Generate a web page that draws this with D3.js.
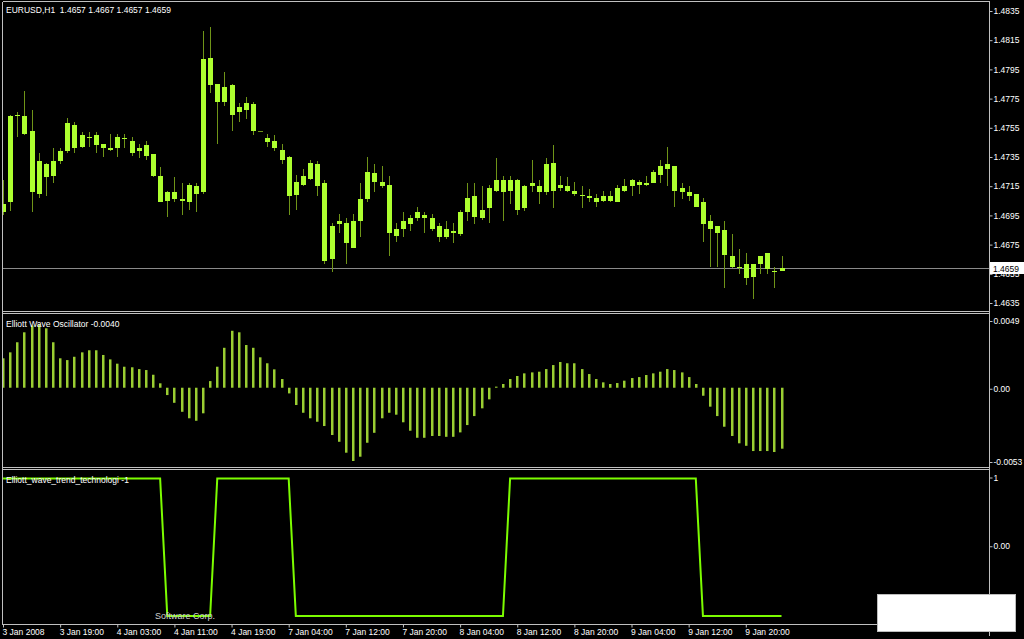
<!DOCTYPE html>
<html>
<head>
<meta charset="utf-8">
<script src="https://cdn.jsdelivr.net/npm/d3@7"></script>
<style>
  html, body { margin: 0; padding: 0; background: #000; }
  svg { display: block; }
  text { font-family: "Liberation Sans", Arial, sans-serif; font-size: 8.5px; fill: #fff; }
</style>
</head>
<body>
<svg id="chart" width="1024" height="639"></svg>
<script>
var symbolName = "EURUSD,H1";
var oscName = "Elliott Wave Oscillator -0.0040";
var trendName = "Elliott_wave_trend_technologi -1";
var footerText = "Software Corp.";

var timeLabels = ["3 Jan 2008", "3 Jan 19:00", "4 Jan 03:00", "4 Jan 11:00", "4 Jan 19:00", "7 Jan 04:00", "7 Jan 12:00",
                  "7 Jan 20:00", "8 Jan 04:00", "8 Jan 12:00", "8 Jan 20:00", "9 Jan 04:00", "9 Jan 12:00", "9 Jan 20:00"];
var timeLabelBars = [0, 8, 16, 24, 32, 40, 48, 56, 64, 72, 80, 88, 96, 104];

var priceTicks = [1.4835, 1.4815, 1.4795, 1.4775, 1.4755, 1.4735, 1.4715, 1.4695, 1.4675, 1.4655, 1.4635];
var oscTicks = [0.0049, 0, -0.0053];
var oscTickLabels = ["0.0049", "0.00", "-0.0053"];
var trendTicks = [1, 0];
var trendTickLabels = ["1", "0.00"];

var opens = [
  1.4697, 1.4704, 1.4763, 1.4763, 1.4753, 1.4710, 1.4730, 1.4722, 1.4732, 1.4739,
  1.4757, 1.4742, 1.4749, 1.4743, 1.4744, 1.4741, 1.4741, 1.4748, 1.4746, 1.4739,
  1.4743, 1.4737, 1.4722, 1.4705, 1.4711, 1.4706, 1.4704, 1.4715, 1.4711, 1.4803,
  1.4785, 1.4773, 1.4784, 1.4766, 1.4767, 1.4771, 1.4753, 1.4748, 1.4746, 1.4740,
  1.4735, 1.4709, 1.4716, 1.4720, 1.4730, 1.4717, 1.4665, 1.4689, 1.4690, 1.4673,
  1.4691, 1.4706, 1.4724, 1.4718, 1.4716, 1.4681, 1.4686, 1.4689, 1.4693, 1.4695,
  1.4693, 1.4688, 1.4680, 1.4684, 1.4682, 1.4697, 1.4708, 1.4693, 1.4700, 1.4712,
  1.4719, 1.4712, 1.4719, 1.4700, 1.4715, 1.4715, 1.4711, 1.4731, 1.4714, 1.4715,
  1.4712, 1.4709, 1.4708, 1.4707, 1.4705, 1.4705, 1.4704, 1.4712, 1.4715, 1.4718,
  1.4716, 1.4717, 1.4723, 1.4727, 1.4729, 1.4711, 1.4711, 1.4710, 1.4704, 1.4691,
  1.4688, 1.4685, 1.4667, 1.4660, 1.4662, 1.4653, 1.4662, 1.4669, 1.4657, 1.4657
];
var highs = [
  1.4719, 1.4764, 1.4766, 1.4780, 1.4767, 1.4738, 1.4731, 1.4741, 1.4741, 1.4762,
  1.4759, 1.4752, 1.4752, 1.4752, 1.4744, 1.4751, 1.4751, 1.4751, 1.4749, 1.4744,
  1.4746, 1.4737, 1.4728, 1.4712, 1.4721, 1.4717, 1.4717, 1.4717, 1.4821, 1.4824,
  1.4785, 1.4793, 1.4785, 1.4772, 1.4776, 1.4773, 1.4753, 1.4751, 1.4750, 1.4744,
  1.4736, 1.4723, 1.4727, 1.4733, 1.4732, 1.4719, 1.4690, 1.4696, 1.4693, 1.4696,
  1.4717, 1.4735, 1.4730, 1.4729, 1.4722, 1.4690, 1.4697, 1.4695, 1.4701, 1.4697,
  1.4696, 1.4690, 1.4691, 1.4690, 1.4699, 1.4717, 1.4717, 1.4715, 1.4716, 1.4734,
  1.4722, 1.4722, 1.4720, 1.4716, 1.4733, 1.4719, 1.4734, 1.4743, 1.4722, 1.4721,
  1.4718, 1.4715, 1.4713, 1.4710, 1.4712, 1.4712, 1.4716, 1.4720, 1.4720, 1.4719,
  1.4722, 1.4726, 1.4733, 1.4742, 1.4729, 1.4717, 1.4715, 1.4710, 1.4707, 1.4695,
  1.4688, 1.4691, 1.4682, 1.4672, 1.4669, 1.4662, 1.4667, 1.4669, 1.4660, 1.4667
];
var lows = [
  1.4695, 1.4698, 1.4749, 1.4750, 1.4697, 1.4707, 1.4708, 1.4717, 1.4730, 1.4738,
  1.4738, 1.4741, 1.4742, 1.4738, 1.4735, 1.4739, 1.4735, 1.4741, 1.4736, 1.4734,
  1.4733, 1.4721, 1.4704, 1.4694, 1.4704, 1.4695, 1.4699, 1.4697, 1.4710, 1.4779,
  1.4744, 1.4770, 1.4753, 1.4759, 1.4761, 1.4750, 1.4753, 1.4742, 1.4739, 1.4730,
  1.4695, 1.4699, 1.4715, 1.4719, 1.4708, 1.4662, 1.4656, 1.4683, 1.4662, 1.4673,
  1.4680, 1.4704, 1.4711, 1.4714, 1.4667, 1.4677, 1.4680, 1.4684, 1.4691, 1.4683,
  1.4684, 1.4677, 1.4679, 1.4676, 1.4681, 1.4691, 1.4689, 1.4692, 1.4690, 1.4711,
  1.4691, 1.4703, 1.4695, 1.4698, 1.4711, 1.4703, 1.4709, 1.4700, 1.4712, 1.4711,
  1.4708, 1.4700, 1.4704, 1.4701, 1.4704, 1.4704, 1.4704, 1.4711, 1.4708, 1.4710,
  1.4715, 1.4717, 1.4717, 1.4715, 1.4701, 1.4706, 1.4705, 1.4701, 1.4677, 1.4660,
  1.4660, 1.4645, 1.4659, 1.4655, 1.4647, 1.4638, 1.4655, 1.4655, 1.4645, 1.4657
];
var closes = [
  1.4703, 1.4763, 1.4764, 1.4751, 1.4711, 1.4732, 1.4721, 1.4732, 1.4739, 1.4758,
  1.4741, 1.4750, 1.4748, 1.4750, 1.4741, 1.4740, 1.4749, 1.4747, 1.4738, 1.4741,
  1.4736, 1.4722, 1.4704, 1.4711, 1.4706, 1.4705, 1.4716, 1.4710, 1.4802, 1.4784,
  1.4773, 1.4783, 1.4764, 1.4769, 1.4772, 1.4753, 1.4753, 1.4745, 1.4741, 1.4733,
  1.4708, 1.4718, 1.4722, 1.4731, 1.4715, 1.4664, 1.4688, 1.4691, 1.4676, 1.4691,
  1.4706, 1.4725, 1.4718, 1.4715, 1.4683, 1.4686, 1.4691, 1.4693, 1.4697, 1.4693,
  1.4686, 1.4680, 1.4686, 1.4683, 1.4697, 1.4707, 1.4694, 1.4699, 1.4714, 1.4719,
  1.4711, 1.4719, 1.4699, 1.4715, 1.4717, 1.4711, 1.4730, 1.4712, 1.4716, 1.4712,
  1.4710, 1.4708, 1.4707, 1.4704, 1.4708, 1.4708, 1.4714, 1.4715, 1.4719, 1.4716,
  1.4717, 1.4725, 1.4729, 1.4730, 1.4712, 1.4714, 1.4708, 1.4701, 1.4689, 1.4686,
  1.4683, 1.4668, 1.4660, 1.4659, 1.4652, 1.4662, 1.4667, 1.4658, 1.4656, 1.4659
];

var oscValues = [
  0.00213, 0.00256, 0.00329, 0.00401, 0.00450, 0.00460, 0.00430, 0.00329, 0.00213, 0.00200,
  0.00224, 0.00256, 0.00271, 0.00271, 0.00237, 0.00205, 0.00174, 0.00152, 0.00148, 0.00135,
  0.00128, 0.00094, 0.00032, -0.00053, -0.00109, -0.00174, -0.00221, -0.00239, -0.00185, 0.00048,
  0.00152, 0.00289, 0.00412, 0.00401, 0.00309, 0.00289, 0.00220, 0.00177, 0.00133, 0.00063,
  -0.00041, -0.00125, -0.00181, -0.00221, -0.00246, -0.00277, -0.00342, -0.00391, -0.00470, -0.00530,
  -0.00499, -0.00398, -0.00326, -0.00221, -0.00181, -0.00195, -0.00250, -0.00311, -0.00362, -0.00362,
  -0.00349, -0.00349, -0.00355, -0.00355, -0.00323, -0.00270, -0.00205, -0.00149, -0.00084, 0.00008,
  0.00027, 0.00063, 0.00085, 0.00104, 0.00111, 0.00116, 0.00135, 0.00164, 0.00186, 0.00177,
  0.00177, 0.00135, 0.00099, 0.00063, 0.00039, 0.00027, 0.00034, 0.00051, 0.00070, 0.00077,
  0.00092, 0.00104, 0.00116, 0.00135, 0.00128, 0.00111, 0.00077, 0.00027, -0.00058, -0.00137,
  -0.00205, -0.00282, -0.00349, -0.00402, -0.00420, -0.00458, -0.00458, -0.00458, -0.00465, -0.00441
];

var trendValues = [
  1, 1, 1, 1, 1, 1, 1, 1, 1, 1,
  1, 1, 1, 1, 1, 1, 1, 1, 1, 1,
  1, 1, 1, -1, -1, -1, -1, -1, -1, -1,
  1, 1, 1, 1, 1, 1, 1, 1, 1, 1,
  1, -1, -1, -1, -1, -1, -1, -1, -1, -1,
  -1, -1, -1, -1, -1, -1, -1, -1, -1, -1,
  -1, -1, -1, -1, -1, -1, -1, -1, -1, -1,
  -1, 1, 1, 1, 1, 1, 1, 1, 1, 1,
  1, 1, 1, 1, 1, 1, 1, 1, 1, 1,
  1, 1, 1, 1, 1, 1, 1, 1, -1, -1,
  -1, -1, -1, -1, -1, -1, -1, -1, -1, -1
];

var W = 1024, H = 639;
var plotLeft = 2.5, plotRight = 989.5;
var frameColor = "#c0c0c0";
var bodyColor = "#adff2f";
var wickColor = "#6f9418";
var oscColor = "#9acd32";
var trendColor = "#7cfc00";

var svg = d3.select("#chart");
svg.append("rect").attr("width", W).attr("height", H).attr("fill", "#000");

var lastBar = closes.length - 1;
var xs = d3.scaleLinear().domain([0, lastBar]).range([3, 781.5]);
var yP = d3.scaleLinear().domain([1.4635, 1.4835]).range([303, 11]);
var yO = d3.scaleLinear().domain([-0.0053, 0.0049]).range([461, 320]);
var yT = d3.scaleLinear().domain([-1, 1]).range([616, 478.5]);

var fmt4 = d3.format(".4f");
var bars = d3.range(closes.length);

// clip areas for the three panels
var defs = svg.append("defs");
[["clipMain", 2, 311], ["clipOsc", 314, 467], ["clipTrend", 470, 624]].forEach(function(c) {
    defs.append("clipPath").attr("id", c[0])
        .append("rect")
        .attr("x", 3).attr("y", c[1])
        .attr("width", plotRight - 3).attr("height", c[2] - c[1]);
});

// current price line
svg.append("line")
    .attr("x1", plotLeft).attr("x2", plotRight)
    .attr("y1", Math.round(yP(closes[lastBar])) + 0.5)
    .attr("y2", Math.round(yP(closes[lastBar])) + 0.5)
    .attr("stroke", "#8a8a8a")
    .attr("stroke-width", 1);

// candles
var candles = svg.append("g").attr("clip-path", "url(#clipMain)");

candles.selectAll("line.wick")
    .data(bars)
    .enter()
    .append("line")
    .attr("class", "wick")
    .attr("x1", function(i) { return Math.round(xs(i)) + 0.5; })
    .attr("x2", function(i) { return Math.round(xs(i)) + 0.5; })
    .attr("y1", function(i) { return yP(highs[i]); })
    .attr("y2", function(i) { return yP(lows[i]); })
    .attr("stroke", wickColor)
    .attr("stroke-width", 1)
    .attr("shape-rendering", "crispEdges");

candles.selectAll("rect.body")
    .data(bars)
    .enter()
    .append("rect")
    .attr("class", "body")
    .attr("x", function(i) { return Math.round(xs(i)) - 2; })
    .attr("width", 5)
    .attr("y", function(i) { return yP(Math.max(opens[i], closes[i])); })
    .attr("height", function(i) { return Math.max(1, Math.abs(yP(opens[i]) - yP(closes[i]))); })
    .attr("fill", function(i) { return opens[i] === closes[i] ? wickColor : bodyColor; })
    .attr("shape-rendering", "crispEdges");

// oscillator histogram
svg.append("g")
    .attr("clip-path", "url(#clipOsc)")
    .selectAll("rect")
    .data(bars)
    .enter()
    .append("rect")
    .attr("x", function(i) { return Math.round(xs(i)) - 1; })
    .attr("width", 2.5)
    .attr("y", function(i) { return Math.min(yO(0), yO(oscValues[i])); })
    .attr("height", function(i) { return Math.max(1, Math.abs(yO(oscValues[i]) - yO(0))); })
    .attr("fill", oscColor);

// trend line
var trendLine = d3.line()
    .x(function(i) { return xs(i); })
    .y(function(i) { return yT(trendValues[i]); });

svg.append("path")
    .attr("clip-path", "url(#clipTrend)")
    .datum(bars)
    .attr("d", trendLine)
    .attr("fill", "none")
    .attr("stroke", trendColor)
    .attr("stroke-width", 2);

// frames
var frame = svg.append("g")
    .attr("stroke", frameColor)
    .attr("stroke-width", 1)
    .attr("shape-rendering", "crispEdges");

[1.5, 311.5, 313.5, 467.5, 469.5, 624.5].forEach(function(y) {
    frame.append("line").attr("x1", plotLeft).attr("x2", plotRight).attr("y1", y).attr("y2", y);
});
frame.append("line").attr("x1", plotLeft).attr("x2", plotLeft).attr("y1", 1.5).attr("y2", 624.5);
frame.append("line").attr("x1", plotRight).attr("x2", plotRight).attr("y1", 1.5).attr("y2", 636);

// right axes
function styleAxis(g) {
    g.select(".domain").remove();
    g.selectAll(".tick line").attr("stroke", frameColor);
    g.selectAll(".tick text")
        .attr("fill", "#fff")
        .attr("font-family", "Liberation Sans, Arial, sans-serif")
        .attr("font-size", "8.5px")
        .attr("x", 4);
}

svg.append("g")
    .attr("transform", "translate(" + plotRight + ",0)")
    .call(d3.axisRight(yP).tickValues(priceTicks).tickSize(3).tickFormat(fmt4))
    .call(styleAxis);

svg.append("g")
    .attr("transform", "translate(" + plotRight + ",1)")
    .call(d3.axisRight(yO).tickValues(oscTicks).tickSize(3)
        .tickFormat(function(d, i) { return oscTickLabels[i]; }))
    .call(styleAxis);

svg.append("g")
    .attr("transform", "translate(" + plotRight + ",-1)")
    .call(d3.axisRight(yT).tickValues(trendTicks).tickSize(3)
        .tickFormat(function(d, i) { return trendTickLabels[i]; }))
    .call(styleAxis);

// bottom time axis
var timeAxis = svg.append("g")
    .attr("transform", "translate(0,624.5)")
    .call(d3.axisBottom(xs).tickValues(timeLabelBars).tickSize(3)
        .tickFormat(function(d, i) { return timeLabels[i]; }));
timeAxis.select(".domain").remove();
timeAxis.selectAll(".tick line").attr("stroke", frameColor);
timeAxis.selectAll(".tick text")
    .attr("fill", "#fff")
    .attr("font-family", "Liberation Sans, Arial, sans-serif")
    .attr("font-size", "8.5px")
    .attr("text-anchor", "start")
    .attr("x", -1)
    .attr("y", 4);

// current price marker
var lastY = yP(closes[lastBar]);
svg.append("rect")
    .attr("x", 990).attr("y", Math.round(lastY) - 6)
    .attr("width", 34).attr("height", 12)
    .attr("fill", "#fff");
svg.append("text")
    .attr("x", 993).attr("y", Math.round(lastY) + 3.5)
    .style("fill", "#000")
    .text(fmt4(closes[lastBar]));

// titles
svg.append("text")
    .attr("x", 6).attr("y", 13)
    .text(symbolName + "\u00a0 " + [opens[lastBar], highs[lastBar], lows[lastBar], closes[lastBar]].map(fmt4).join(" "));

svg.append("text").attr("x", 6).attr("y", 327).text(oscName);
svg.append("text").attr("x", 6).attr("y", 483).text(trendName);
svg.append("text").attr("x", 155).attr("y", 619).style("fill", "#d0d0d0").style("font-size", "9px").text(footerText);

// white box at bottom right
svg.append("rect")
    .attr("x", 877.5).attr("y", 594.5)
    .attr("width", 138).attr("height", 37)
    .attr("fill", "#fff")
    .attr("stroke", "#bdbdbd");
</script>
</body>
</html>
